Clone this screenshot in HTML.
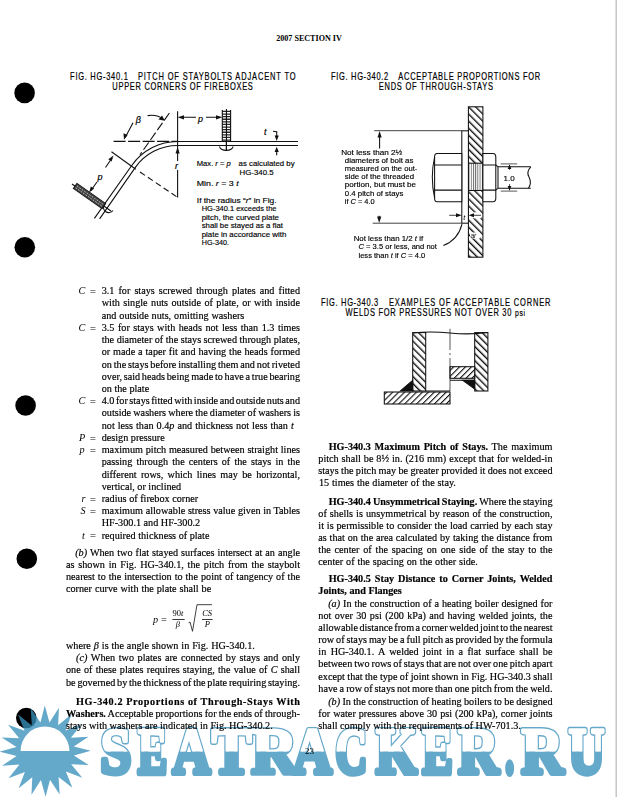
<!DOCTYPE html>
<html><head><meta charset="utf-8">
<style>
html,body{margin:0;padding:0;background:#fff;}
body{width:617px;height:797px;overflow:hidden;position:relative;}
svg{position:absolute;left:0;top:0;}
svg{font-family:"Liberation Serif", serif;} text.t{stroke:#000;stroke-width:0.18px;}
</style></head><body>
<svg width="617" height="797" viewBox="0 0 617 797">
<rect x="0" y="0" width="617" height="797" fill="#fff"/>
<rect x="615" y="0" width="2" height="797" fill="#c8c8c8"/>
<rect x="615" y="0" width="0.8" height="797" fill="#e6e6e6"/>
<circle cx="24.6" cy="92.9" r="10.3" fill="#000"/><circle cx="24.8" cy="247.3" r="10.3" fill="#000"/><circle cx="25.6" cy="405.5" r="10.3" fill="#000"/><circle cx="26.8" cy="558.7" r="10.3" fill="#000"/><circle cx="26.3" cy="718.0" r="10.3" fill="#000"/>

<defs>
<linearGradient id="wg" gradientUnits="userSpaceOnUse" x1="0" y1="726" x2="0" y2="776">
<stop offset="0" stop-color="#fff"/><stop offset="0.5" stop-color="#fff"/><stop offset="0.5" stop-color="#388fbb"/><stop offset="1" stop-color="#388fbb"/>
</linearGradient>
</defs>
<g opacity="0.78">
<polygon points="90.80,750.80 73.88,755.49 88.69,764.91 71.15,764.14 82.32,777.68 65.88,771.53 72.32,787.86 58.59,776.92 59.67,794.44 49.99,779.80 45.60,796.80 40.91,779.88 31.49,794.69 32.26,777.15 18.72,788.32 24.87,771.88 8.54,778.32 19.48,764.59 1.96,765.67 16.60,755.99 -0.40,751.60 16.52,746.91 1.71,737.49 19.25,738.26 8.08,724.72 24.52,730.87 18.08,714.54 31.81,725.48 30.73,707.96 40.41,722.60 44.80,705.60 49.49,722.52 58.91,707.71 58.14,725.25 71.68,714.08 65.53,730.52 81.86,724.08 70.92,737.81 88.44,736.73 73.80,746.41" fill="#388fbb"/>
<path d="M20.5,751 A24.5,24.5 0 0 1 69.5,751 Z" fill="#fff"/>
<clipPath id="topc"><rect x="0" y="600" width="617" height="151.4"/></clipPath>
<text x="0" y="772.6" transform="translate(100.50,0) scale(0.843,1)" font-family='"Liberation Serif", serif' font-weight="bold" font-size="65.5" fill="#388fbb" stroke="#388fbb" stroke-width="5.60" stroke-linejoin="round" vector-effect="non-scaling-stroke">S</text>
<text x="0" y="772.6" transform="translate(137.90,0) scale(0.663,1)" font-family='"Liberation Serif", serif' font-weight="bold" font-size="65.5" fill="#388fbb" stroke="#388fbb" stroke-width="5.60" stroke-linejoin="round" vector-effect="non-scaling-stroke">E</text>
<text x="0" y="772.6" transform="translate(172.70,0) scale(0.794,1)" font-family='"Liberation Serif", serif' font-weight="bold" font-size="65.5" fill="#388fbb" stroke="#388fbb" stroke-width="5.60" stroke-linejoin="round" vector-effect="non-scaling-stroke">A</text>
<text x="0" y="772.6" transform="translate(211.80,0) scale(0.911,1)" font-family='"Liberation Serif", serif' font-weight="bold" font-size="65.5" fill="#388fbb" stroke="#388fbb" stroke-width="5.60" stroke-linejoin="round" vector-effect="non-scaling-stroke">T</text>
<text x="0" y="772.6" transform="translate(251.40,0) scale(0.970,1)" font-family='"Liberation Serif", serif' font-weight="bold" font-size="65.5" fill="#388fbb" stroke="#388fbb" stroke-width="5.60" stroke-linejoin="round" vector-effect="non-scaling-stroke">R</text>
<text x="0" y="772.6" transform="translate(292.80,0) scale(0.823,1)" font-family='"Liberation Serif", serif' font-weight="bold" font-size="65.5" fill="#388fbb" stroke="#388fbb" stroke-width="5.60" stroke-linejoin="round" vector-effect="non-scaling-stroke">A</text>
<text x="0" y="772.6" transform="translate(335.60,0) scale(0.669,1)" font-family='"Liberation Serif", serif' font-weight="bold" font-size="65.5" fill="#388fbb" stroke="#388fbb" stroke-width="5.60" stroke-linejoin="round" vector-effect="non-scaling-stroke">C</text>
<text x="0" y="772.6" transform="translate(376.10,0) scale(0.803,1)" font-family='"Liberation Serif", serif' font-weight="bold" font-size="65.5" fill="#388fbb" stroke="#388fbb" stroke-width="5.60" stroke-linejoin="round" vector-effect="non-scaling-stroke">K</text>
<text x="0" y="772.6" transform="translate(422.50,0) scale(0.686,1)" font-family='"Liberation Serif", serif' font-weight="bold" font-size="65.5" fill="#388fbb" stroke="#388fbb" stroke-width="5.60" stroke-linejoin="round" vector-effect="non-scaling-stroke">E</text>
<text x="0" y="772.6" transform="translate(458.20,0) scale(0.853,1)" font-family='"Liberation Serif", serif' font-weight="bold" font-size="65.5" fill="#388fbb" stroke="#388fbb" stroke-width="5.60" stroke-linejoin="round" vector-effect="non-scaling-stroke">R</text>
<text x="0" y="772.6" transform="translate(505.40,0) scale(0.506,1)" font-family='"Liberation Serif", serif' font-weight="bold" font-size="65.5" fill="#388fbb" stroke="#388fbb" stroke-width="5.60" stroke-linejoin="round" vector-effect="non-scaling-stroke">.</text>
<text x="0" y="772.6" transform="translate(521.60,0) scale(0.885,1)" font-family='"Liberation Serif", serif' font-weight="bold" font-size="65.5" fill="#388fbb" stroke="#388fbb" stroke-width="5.60" stroke-linejoin="round" vector-effect="non-scaling-stroke">R</text>
<text x="0" y="772.6" transform="translate(568.60,0) scale(0.762,1)" font-family='"Liberation Serif", serif' font-weight="bold" font-size="65.5" fill="#388fbb" stroke="#388fbb" stroke-width="5.60" stroke-linejoin="round" vector-effect="non-scaling-stroke">U</text>
<g clip-path="url(#topc)"><text x="0" y="772.6" transform="translate(100.50,0) scale(0.843,1)" font-family='"Liberation Serif", serif' font-weight="bold" font-size="65.5" fill="#fff" stroke="#fff" stroke-width="3.00" stroke-linejoin="round" vector-effect="non-scaling-stroke">S</text>
<text x="0" y="772.6" transform="translate(137.90,0) scale(0.663,1)" font-family='"Liberation Serif", serif' font-weight="bold" font-size="65.5" fill="#fff" stroke="#fff" stroke-width="3.00" stroke-linejoin="round" vector-effect="non-scaling-stroke">E</text>
<text x="0" y="772.6" transform="translate(172.70,0) scale(0.794,1)" font-family='"Liberation Serif", serif' font-weight="bold" font-size="65.5" fill="#fff" stroke="#fff" stroke-width="3.00" stroke-linejoin="round" vector-effect="non-scaling-stroke">A</text>
<text x="0" y="772.6" transform="translate(211.80,0) scale(0.911,1)" font-family='"Liberation Serif", serif' font-weight="bold" font-size="65.5" fill="#fff" stroke="#fff" stroke-width="3.00" stroke-linejoin="round" vector-effect="non-scaling-stroke">T</text>
<text x="0" y="772.6" transform="translate(251.40,0) scale(0.970,1)" font-family='"Liberation Serif", serif' font-weight="bold" font-size="65.5" fill="#fff" stroke="#fff" stroke-width="3.00" stroke-linejoin="round" vector-effect="non-scaling-stroke">R</text>
<text x="0" y="772.6" transform="translate(292.80,0) scale(0.823,1)" font-family='"Liberation Serif", serif' font-weight="bold" font-size="65.5" fill="#fff" stroke="#fff" stroke-width="3.00" stroke-linejoin="round" vector-effect="non-scaling-stroke">A</text>
<text x="0" y="772.6" transform="translate(335.60,0) scale(0.669,1)" font-family='"Liberation Serif", serif' font-weight="bold" font-size="65.5" fill="#fff" stroke="#fff" stroke-width="3.00" stroke-linejoin="round" vector-effect="non-scaling-stroke">C</text>
<text x="0" y="772.6" transform="translate(376.10,0) scale(0.803,1)" font-family='"Liberation Serif", serif' font-weight="bold" font-size="65.5" fill="#fff" stroke="#fff" stroke-width="3.00" stroke-linejoin="round" vector-effect="non-scaling-stroke">K</text>
<text x="0" y="772.6" transform="translate(422.50,0) scale(0.686,1)" font-family='"Liberation Serif", serif' font-weight="bold" font-size="65.5" fill="#fff" stroke="#fff" stroke-width="3.00" stroke-linejoin="round" vector-effect="non-scaling-stroke">E</text>
<text x="0" y="772.6" transform="translate(458.20,0) scale(0.853,1)" font-family='"Liberation Serif", serif' font-weight="bold" font-size="65.5" fill="#fff" stroke="#fff" stroke-width="3.00" stroke-linejoin="round" vector-effect="non-scaling-stroke">R</text>
<text x="0" y="772.6" transform="translate(505.40,0) scale(0.506,1)" font-family='"Liberation Serif", serif' font-weight="bold" font-size="65.5" fill="#fff" stroke="#fff" stroke-width="3.00" stroke-linejoin="round" vector-effect="non-scaling-stroke">.</text>
<text x="0" y="772.6" transform="translate(521.60,0) scale(0.885,1)" font-family='"Liberation Serif", serif' font-weight="bold" font-size="65.5" fill="#fff" stroke="#fff" stroke-width="3.00" stroke-linejoin="round" vector-effect="non-scaling-stroke">R</text>
<text x="0" y="772.6" transform="translate(568.60,0) scale(0.762,1)" font-family='"Liberation Serif", serif' font-weight="bold" font-size="65.5" fill="#fff" stroke="#fff" stroke-width="3.00" stroke-linejoin="round" vector-effect="non-scaling-stroke">U</text></g>
</g>

<!-- header -->
<text x="276.2" y="40.8" font-size="9.2" font-weight="bold" textLength="65.6" lengthAdjust="spacingAndGlyphs">2007 SECTION IV</text>

<!-- figure titles -->
<g font-family='"Liberation Sans", sans-serif' font-size="10.4" stroke="#000" stroke-width="0.2">
<text x="0" y="0" transform="translate(70.1,79.6) scale(0.72,1)" textLength="80.2" lengthAdjust="spacing">FIG. HG-340.1</text>
<text x="0" y="0" transform="translate(138.0,79.6) scale(0.72,1)" textLength="218.8" lengthAdjust="spacing">PITCH OF STAYBOLTS ADJACENT TO</text>
<text x="0" y="0" transform="translate(112.3,90.3) scale(0.72,1)" textLength="195.2" lengthAdjust="spacing">UPPER CORNERS OF FIREBOXES</text>
<text x="0" y="0" transform="translate(331.1,79.6) scale(0.72,1)" textLength="79.3" lengthAdjust="spacing">FIG. HG-340.2</text>
<text x="0" y="0" transform="translate(398.3,79.6) scale(0.72,1)" textLength="197.1" lengthAdjust="spacing">ACCEPTABLE PROPORTIONS FOR</text>
<text x="0" y="0" transform="translate(378.7,90.0) scale(0.72,1)" textLength="158.8" lengthAdjust="spacing">ENDS OF THROUGH-STAYS</text>
<text x="0" y="0" transform="translate(321.1,305.8) scale(0.72,1)" textLength="79.3" lengthAdjust="spacing">FIG. HG-340.3</text>
<text x="0" y="0" transform="translate(389.0,305.8) scale(0.72,1)" textLength="224.2" lengthAdjust="spacing">EXAMPLES OF ACCEPTABLE CORNER</text>
<text x="0" y="0" transform="translate(345.4,315.9) scale(0.72,1)" textLength="249.6" lengthAdjust="spacing">WELDS FOR PRESSURES NOT OVER 30 <tspan font-size="9.5">psi</tspan></text>
</g>

<!-- FIG 1 annotations -->
<g font-family='"Liberation Sans", sans-serif' font-size="7.3" stroke="#000" stroke-width="0.15" lengthAdjust="spacingAndGlyphs">
<text x="196.8" y="165.6" textLength="34" lengthAdjust="spacingAndGlyphs">Max. <tspan font-style="italic">r</tspan> = <tspan font-style="italic">p</tspan></text>
<text x="238.6" y="165.6" textLength="56" lengthAdjust="spacingAndGlyphs">as calculated by</text>
<text x="239.6" y="175.3" textLength="34" lengthAdjust="spacingAndGlyphs">HG-340.5</text>
<text x="196.8" y="186" textLength="41.8" lengthAdjust="spacingAndGlyphs">Min. <tspan font-style="italic">r</tspan> = 3 <tspan font-style="italic">t</tspan></text>
<text x="196.8" y="202.9" textLength="79.7" lengthAdjust="spacingAndGlyphs">If the radius “<tspan font-style="italic">r</tspan>” in Fig.</text>
<text x="201.7" y="211.3" textLength="74.8" lengthAdjust="spacingAndGlyphs">HG-340.1 exceeds the</text>
<text x="201.7" y="219.6" textLength="77.3" lengthAdjust="spacingAndGlyphs">pitch, the curved plate</text>
<text x="201.7" y="227.8" textLength="81.3" lengthAdjust="spacingAndGlyphs">shall be stayed as a flat</text>
<text x="201.7" y="236.5" textLength="84.6" lengthAdjust="spacingAndGlyphs">plate in accordance with</text>
<text x="201.7" y="245.3" textLength="27.2" lengthAdjust="spacingAndGlyphs">HG-340.</text>
</g>
<g font-family='"Liberation Sans", sans-serif' font-style="italic" font-size="9" stroke="#000" stroke-width="0.2">
<text x="135.8" y="123">β</text>
<text x="198" y="121.5">p</text>
<text x="97.5" y="179.5">p</text>
<text x="175" y="168.5">r</text>
<text x="264" y="135">t</text>
</g>

<!-- FIG 1 drawing -->
<g fill="none" stroke="#111" stroke-width="1.1">
  <!-- top plate outer & inner with bend and incline -->
  <path d="M298,141.5 L177.7,141.5 A55.9,55.9 0 0 0 131.9,165.3 L94.4,218.4"/>
  <path d="M298,145.5 L177.7,145.5 A51.9,51.9 0 0 0 135.2,167.6 L99.6,218.9"/>
  <!-- dashed horizontal extension -->
  <path d="M113.6,141.4 L177.7,141.4" stroke-dasharray="12,2.5"/>
  <!-- dashed extension of incline -->
  <path d="M169.4,113 L140,154.8" stroke-dasharray="9,3"/>
  <!-- vertical r line -->
  <path d="M177.6,111.3 L177.6,161"/>
  <path d="M177.6,170 L177.6,197.4"/>
  <!-- perpendicular line -->
  <path d="M111.5,151.7 L135.8,169.2"/>
  <path d="M140,172 L177.7,197.4" stroke-dasharray="6,3.5"/>
  <!-- beta arrows -->
  <path d="M147.6,115.6 Q157,114 163.5,119.5"/>
  <path d="M133,122.7 L125.2,137.5"/>
  <!-- p dim top -->
  <path d="M181.5,117.3 L196,117.3 M206,117.3 L219,117.3"/>
  <!-- p dim incline -->
  <path d="M112,158 L105.5,167.5 M97,182 L90.5,191"/>
  <!-- t arrows -->
  <path d="M273,131.2 L276.7,131.8 L276.7,138"/>
  <path d="M276.7,155.3 L276.7,150"/>
  <!-- extension line from lower bolt -->
  <path d="M72,184 L111,211"/>
  <!-- head semicircles -->
  <path d="M219.6,146.4 A6.7,4 0 0 0 233,146.4"/>
  <path d="M104.5,204 A5,5 0 0 0 113,210.5"/>
  <!-- staybolt top -->
  <path d="M222.3,110 L222.3,141.4 M230.6,110 L230.6,141.4 M226.45,109 L226.45,151"/>
  <path d="M226.4,141 L226.4,151"/>
</g>
<g fill="#111">
  <!-- arrowheads -->
  <path d="M177.6,117.3 L184,115.2 L184,119.4 Z"/>
  <path d="M222.3,117.3 L216,115.2 L216,119.4 Z"/>
  <path d="M177.6,147 L175.5,153.5 L179.7,153.5 Z"/>
  <path d="M276.7,141 L274.6,135.5 L278.8,135.5 Z"/>
  <path d="M276.7,146.7 L274.6,152 L278.8,152 Z"/>
  <path d="M164.8,120.8 L158.5,119.5 L162,115.5 Z"/>
  <path d="M124,139.7 L123.5,133.2 L127.6,135 Z"/>
  <path d="M113.5,155.6 L108.3,159.2 L111.6,161.4 Z"/>
  <path d="M89.2,192.5 L90.8,186.4 L94.2,188.6 Z"/>
  <!-- staybolt hatch -->
  <path d="M222.3,110.8 h8.4 v1.3 h-8.4z M222.3,113.4 h8.4 v1.3 h-8.4z M222.3,116.0 h8.4 v1.3 h-8.4z M222.3,118.6 h8.4 v1.3 h-8.4z M222.3,121.2 h8.4 v1.3 h-8.4z M222.3,123.8 h8.4 v1.3 h-8.4z M222.3,126.4 h8.4 v1.3 h-8.4z M222.3,129.0 h8.4 v1.3 h-8.4z M222.3,131.6 h8.4 v1.3 h-8.4z M222.3,134.2 h8.4 v1.3 h-8.4z M222.3,136.8 h8.4 v1.3 h-8.4z M222.3,139.4 h8.4 v1.3 h-8.4z" opacity="0.9"/>
</g>
<!-- lower staybolt hatched -->
<g transform="translate(89.5,196) rotate(35)">
  <rect x="-17.5" y="-3.1" width="35" height="6.2" fill="#444" stroke="#111" stroke-width="1"/>
  <path d="M-16,-1 L16,-1 M-16,1.2 L16,1.2" stroke="#ddd" stroke-width="0.7" stroke-dasharray="1.6,1.4"/>
</g>

<!-- FIG 2 annotations -->
<g font-family='"Liberation Sans", sans-serif' font-size="7.3" stroke="#000" stroke-width="0.15" lengthAdjust="spacingAndGlyphs">
<text x="341.2" y="154.8" textLength="61.2" lengthAdjust="spacingAndGlyphs">Not less than 2½</text>
<text x="344.8" y="162.8" textLength="68.6" lengthAdjust="spacingAndGlyphs">diameters of bolt as</text>
<text x="344.8" y="170.5" textLength="72.6" lengthAdjust="spacingAndGlyphs">measured on the out-</text>
<text x="344.8" y="178.8" textLength="69.2" lengthAdjust="spacingAndGlyphs">side of the threaded</text>
<text x="344.8" y="187.4" textLength="71.3" lengthAdjust="spacingAndGlyphs">portion, but must be</text>
<text x="344.8" y="195.8" textLength="58.5" lengthAdjust="spacingAndGlyphs">0.4 pitch of stays</text>
<text x="344.8" y="203.8" textLength="29.8" lengthAdjust="spacingAndGlyphs">if <tspan font-style="italic">C</tspan> = 4.0</text>
<text x="353.7" y="240.5" textLength="69.5" lengthAdjust="spacingAndGlyphs">Not less than 1/2 <tspan font-style="italic">t</tspan> if</text>
<text x="358.5" y="249.1" textLength="78.4" lengthAdjust="spacingAndGlyphs"><tspan font-style="italic">C</tspan> = 3.5 or less, and not</text>
<text x="358.5" y="257.5" textLength="66.8" lengthAdjust="spacingAndGlyphs">less than <tspan font-style="italic">t</tspan> if <tspan font-style="italic">C</tspan> = 4.0</text>
<text x="503.5" y="181" font-size="8">1.0</text>
</g>


<!-- FIG 2 drawing -->
<defs>
  <pattern id="hb" patternUnits="userSpaceOnUse" width="5" height="5" patternTransform="rotate(-45)">
    <rect width="5" height="5" fill="#fff"/>
    <rect x="0" y="0" width="1.4" height="5" fill="#111"/>
  </pattern>
  <pattern id="hf" patternUnits="userSpaceOnUse" width="4.2" height="4.2" patternTransform="rotate(45)">
    <rect width="4.2" height="4.2" fill="#fff"/>
    <rect x="0" y="0" width="1.1" height="4.2" fill="#111"/>
  </pattern>
  <pattern id="thr" patternUnits="userSpaceOnUse" width="2.2" height="3">
    <rect width="2.2" height="3" fill="#fff"/>
    <rect x="0" y="0" width="0.9" height="3" fill="#666"/>
  </pattern>
</defs>
<g stroke="#111" stroke-width="1.05">
  <rect x="468.4" y="106.8" width="14.5" height="150.4" fill="url(#hb)"/>
  <rect x="468.4" y="163.2" width="14.5" height="27.3" fill="url(#thr)"/>
  <rect x="461.8" y="130.8" width="6.6" height="92.4" fill="#fff"/>
  <path d="M461.8,153.5 L437,153.5 Q434.6,153.5 434.6,157 L434.6,198 Q434.6,201.8 437,201.8 L461.8,201.8 Z" fill="#fff"/>
  <path d="M434.6,164.9 L461.8,164.9 M434.6,190.1 L461.8,190.1" fill="none"/>
  <path d="M434.6,157 Q430,177 434.6,198" fill="none"/>
  <path d="M482.9,153.5 L493,153.5 Q495.8,153.5 495.8,157 L495.8,198 Q495.8,201.8 493,201.8 L482.9,201.8 Z" fill="#fff"/>
  <path d="M482.9,164.9 L495.8,164.9 M482.9,190.1 L495.8,190.1" fill="none"/>
  <path d="M495.8,165 L498,166.8 L530.8,166.8 M495.8,190 L498,188.2 L530.8,188.2 M498,166.8 L498,188.2" fill="none"/>
  <path d="M530.8,166.8 Q526,172 529,177 Q532,183 528.5,188.2" fill="none"/>
  <path d="M500.7,163.9 L517.2,163.9 M500.7,191.1 L517.2,191.1" fill="none" stroke-width="0.7"/>
  <path d="M509.5,170 L509.5,166 M509.5,184 L509.5,189" fill="none" stroke-width="0.7"/>
  <path d="M374.2,130.7 L461.8,130.7 M372.7,223.2 L461.8,223.2" fill="none" stroke-width="0.8"/>
  <path d="M379.6,148.5 L379.6,135 M379.2,215.8 L379.2,219" fill="none"/>
  <path d="M449.2,215.3 L458,215.3 M480,215.3 L471,215.3" fill="none" stroke-width="0.8"/>
  <path d="M462,224.2 Q458,240 443.3,245.6" fill="none"/>
</g>
<g fill="#111">
  <path d="M379.6,130.9 L377.5,137.5 L381.7,137.5 Z"/>
  <path d="M379.2,223 L377.1,216.5 L381.3,216.5 Z"/>
  <path d="M461.8,215.3 L456,213.3 L456,217.3 Z"/>
  <rect x="469" y="212.3" width="12" height="6" fill="#fff"/><path d="M468.6,215.3 L474,213.3 L474,217.3 Z"/><path d="M474,215.3 L481,215.3" stroke="#111" stroke-width="0.8"/>
  <path d="M509.5,164.2 L507.7,169 L511.3,169 Z"/>
  <path d="M509.5,190.8 L507.7,186 L511.3,186 Z"/>
</g>
<rect x="470" y="232.5" width="10" height="6" fill="#fff"/>
<text x="463.2" y="219.5" font-family='"Liberation Sans", sans-serif' font-style="italic" font-size="7.5">t</text>
<text x="470.5" y="238" font-family='"Liberation Sans", sans-serif' font-size="6.5" font-style="italic">ar</text>

<!-- FIG 3 drawing -->
<g stroke="#111" stroke-width="1.05">
  <rect x="412.7" y="332.6" width="13" height="58.4" fill="url(#hb)"/>
  <rect x="474.7" y="332.6" width="13.2" height="58.4" fill="url(#hb)"/>
  <rect x="384.3" y="392" width="65.7" height="12" fill="url(#hf)"/>
  <rect x="450" y="366.7" width="24.7" height="11.6" fill="url(#hf)"/>
  <path d="M412.7,333 Q430,331 450,333 T487.9,332.4" fill="none"/>
  <path d="M425.7,391 L450,391 M450,380.3 L474.7,380.3" fill="none"/>
  <path d="M450,328.8 L450,350 M450,353 L450,355 M450,358 L450,391" fill="none" stroke-width="0.7"/>
  <path d="M400.4,391 L412.7,380.3 L412.7,391 Z" fill="#111"/>
  <path d="M462.7,380.3 L474.7,380.3 L474.7,389 Z" fill="#111"/>
</g>

<!-- formula -->
<g font-size="10.2">
<text x="152.9" y="622.9" font-style="italic">p</text>
<text x="161" y="622.9">=</text>
<text x="172.4" y="616.4" font-size="8.5">90<tspan font-style="italic">t</tspan></text>
<path d="M172.4,619.5 L184.7,619.5" stroke="#222" stroke-width="0.9"/>
<text x="175.7" y="626.8" font-size="8.5" font-style="italic">β</text>
<path d="M188.6,622.9 L190,622 L192.5,631.3 L197,604.7 L212,604.7" fill="none" stroke="#111" stroke-width="0.8"/>
<text x="202.2" y="616.4" font-size="8.5" font-style="italic">CS</text>
<path d="M202,619.5 L212.6,619.5" stroke="#222" stroke-width="0.9"/>
<text x="204.8" y="626.8" font-size="8.5" font-style="italic">P</text>
</g>

<text x="305" y="753.8" font-size="9">23</text>

<g>
<text class="t" x="101.70" y="294.20" font-size="10.20" word-spacing="1.492"><tspan>3.1 for stays screwed through plates and fitted</tspan></text>
<text class="t" x="90.00" y="294.90" font-size="10.20"><tspan>=</tspan></text>
<text class="t" x="101.70" y="306.43" font-size="10.20" word-spacing="0.913"><tspan>with single nuts outside of plate, or with inside</tspan></text>
<text class="t" x="101.70" y="318.65" font-size="10.20" word-spacing="0.349"><tspan>and outside nuts, omitting washers</tspan></text>
<text class="t" x="101.70" y="330.88" font-size="10.20" word-spacing="0.936"><tspan>3.5 for stays with heads not less than 1.3 times</tspan></text>
<text class="t" x="90.00" y="331.57" font-size="10.20"><tspan>=</tspan></text>
<text class="t" x="101.70" y="343.10" font-size="10.20" word-spacing="-0.042"><tspan>the diameter of the stays screwed through plates,</tspan></text>
<text class="t" x="101.70" y="355.32" font-size="10.20" word-spacing="0.377"><tspan>or made a taper fit and having the heads formed</tspan></text>
<text class="t" x="101.70" y="367.55" font-size="10.20" word-spacing="-0.675"><tspan>on the stays before installing them and not riveted</tspan></text>
<text class="t" x="101.70" y="379.77" font-size="10.20" word-spacing="-0.803"><tspan>over, said heads being made to have a true bearing</tspan></text>
<text class="t" x="101.70" y="392.00" font-size="10.20"><tspan>on the plate</tspan></text>
<text class="t" x="101.70" y="404.22" font-size="10.20" word-spacing="-1.043"><tspan>4.0 for stays fitted with inside and outside nuts and</tspan></text>
<text class="t" x="90.00" y="404.92" font-size="10.20"><tspan>=</tspan></text>
<text class="t" x="101.70" y="416.45" font-size="10.20" word-spacing="-0.406"><tspan>outside washers where the diameter of washers is</tspan></text>
<text class="t" x="101.70" y="428.67" font-size="10.20" word-spacing="0.466"><tspan>not less than 0.4</tspan><tspan font-style="italic">p</tspan><tspan> and thickness not less than </tspan><tspan font-style="italic">t</tspan></text>
<text class="t" x="101.70" y="440.90" font-size="10.20"><tspan>design pressure</tspan></text>
<text class="t" x="90.00" y="441.60" font-size="10.20"><tspan>=</tspan></text>
<text class="t" x="101.70" y="453.12" font-size="10.20" word-spacing="0.219"><tspan>maximum pitch measured between straight lines</tspan></text>
<text class="t" x="90.00" y="453.82" font-size="10.20"><tspan>=</tspan></text>
<text class="t" x="101.70" y="465.35" font-size="10.20" word-spacing="1.586"><tspan>passing through the centers of the stays in the</tspan></text>
<text class="t" x="101.70" y="477.57" font-size="10.20" word-spacing="1.771"><tspan>different rows, which lines may be horizontal,</tspan></text>
<text class="t" x="101.70" y="489.80" font-size="10.20"><tspan>vertical, or inclined</tspan></text>
<text class="t" x="101.70" y="502.02" font-size="10.20"><tspan>radius of firebox corner</tspan></text>
<text class="t" x="90.00" y="502.72" font-size="10.20"><tspan>=</tspan></text>
<text class="t" x="101.70" y="514.25" font-size="10.20" word-spacing="0.097"><tspan>maximum allowable stress value given in Tables</tspan></text>
<text class="t" x="90.00" y="514.95" font-size="10.20"><tspan>=</tspan></text>
<text class="t" x="101.70" y="526.48" font-size="10.20"><tspan>HF-300.1 and HF-300.2</tspan></text>
<text class="t" x="101.70" y="538.70" font-size="10.20"><tspan>required thickness of plate</tspan></text>
<text class="t" x="90.00" y="539.40" font-size="10.20"><tspan>=</tspan></text>
<text class="t" x="75.20" y="556.10" font-size="10.20" word-spacing="0.450"><tspan font-style="italic">(b)</tspan><tspan> When two flat stayed surfaces intersect at an angle</tspan></text>
<text class="t" x="66.00" y="568.00" font-size="10.20" word-spacing="1.224"><tspan>as shown in Fig. HG-340.1, the pitch from the staybolt</tspan></text>
<text class="t" x="66.00" y="580.00" font-size="10.20" word-spacing="0.428"><tspan>nearest to the intersection to the point of tangency of the</tspan></text>
<text class="t" x="66.00" y="592.00" font-size="10.20" word-spacing="0.343"><tspan>corner curve with the plate shall be</tspan></text>
<text class="t" x="66.00" y="648.90" font-size="10.20" word-spacing="0.364"><tspan>where </tspan><tspan font-style="italic">β</tspan><tspan> is the angle shown in Fig. HG-340.1.</tspan></text>
<text class="t" x="76.10" y="661.20" font-size="10.20" word-spacing="1.041"><tspan font-style="italic">(c)</tspan><tspan> When two plates are connected by stays and only</tspan></text>
<text class="t" x="66.00" y="673.40" font-size="10.20" word-spacing="0.681"><tspan>one of these plates requires staying, the value of </tspan><tspan font-style="italic">C</tspan><tspan> shall</tspan></text>
<text class="t" x="66.00" y="685.80" font-size="10.20" word-spacing="-0.783"><tspan>be governed by the thickness of the plate requiring staying.</tspan></text>
<text class="t" x="76.10" y="704.90" font-size="10.20" letter-spacing="0.603"><tspan font-weight="bold">HG-340.2 Proportions of Through-Stays With</tspan></text>
<text class="t" x="66.00" y="716.90" font-size="10.20" word-spacing="-0.362"><tspan font-weight="bold">Washers.</tspan><tspan> Acceptable proportions for the ends of through-</tspan></text>
<text class="t" x="66.00" y="728.50" font-size="10.20" word-spacing="0.022"><tspan>stays with washers are indicated in Fig. HG-340.2.</tspan></text>
<text class="t" x="328.70" y="449.90" font-size="10.20" word-spacing="1.206"><tspan font-weight="bold">HG-340.3 Maximum Pitch of Stays.</tspan><tspan> The maximum</tspan></text>
<text class="t" x="318.30" y="462.10" font-size="10.20" word-spacing="0.390"><tspan>pitch shall be 8½ in. (216 mm) except that for welded-in</tspan></text>
<text class="t" x="318.30" y="474.20" font-size="10.20" word-spacing="-0.174"><tspan>stays the pitch may be greater provided it does not exceed</tspan></text>
<text class="t" x="318.90" y="486.40" font-size="10.20" word-spacing="0.357"><tspan>15 times the diameter of the stay.</tspan></text>
<text class="t" x="328.70" y="505.10" font-size="10.20" word-spacing="-0.418"><tspan font-weight="bold">HG-340.4 Unsymmetrical Staying.</tspan><tspan> Where the staying</tspan></text>
<text class="t" x="318.30" y="517.20" font-size="10.20" word-spacing="0.521"><tspan>of shells is unsymmetrical by reason of the construction,</tspan></text>
<text class="t" x="318.30" y="529.20" font-size="10.20" word-spacing="0.334"><tspan>it is permissible to consider the load carried by each stay</tspan></text>
<text class="t" x="318.30" y="540.90" font-size="10.20" word-spacing="0.281"><tspan>as that on the area calculated by taking the distance from</tspan></text>
<text class="t" x="318.30" y="552.70" font-size="10.20" word-spacing="1.269"><tspan>the center of the spacing on one side of the stay to the</tspan></text>
<text class="t" x="318.30" y="564.50" font-size="10.20" word-spacing="0.329"><tspan>center of the spacing on the other side.</tspan></text>
<text class="t" x="328.70" y="581.70" font-size="10.20" word-spacing="1.422"><tspan font-weight="bold">HG-340.5 Stay Distance to Corner Joints, Welded</tspan></text>
<text class="t" x="318.30" y="594.00" font-size="10.20"><tspan font-weight="bold">Joints, and Flanges</tspan></text>
<text class="t" x="328.20" y="606.50" font-size="10.20" word-spacing="0.370"><tspan font-style="italic">(a)</tspan><tspan> In the construction of a heating boiler designed for</tspan></text>
<text class="t" x="318.30" y="618.80" font-size="10.20" word-spacing="0.868"><tspan>not over 30 psi (200 kPa) and having welded joints, the</tspan></text>
<text class="t" x="318.30" y="630.60" font-size="10.20" word-spacing="-1.040"><tspan>allowable distance from a corner welded joint to the nearest</tspan></text>
<text class="t" x="318.30" y="642.90" font-size="10.20" word-spacing="-0.571"><tspan>row of stays may be a full pitch as provided by the formula</tspan></text>
<text class="t" x="318.30" y="655.10" font-size="10.20" word-spacing="1.861"><tspan>in HG-340.1. A welded joint in a flat surface shall be</tspan></text>
<text class="t" x="318.30" y="667.30" font-size="10.20" word-spacing="-0.544"><tspan>between two rows of stays that are not over one pitch apart</tspan></text>
<text class="t" x="318.30" y="679.80" font-size="10.20" word-spacing="-0.122"><tspan>except that the type of joint shown in Fig. HG-340.3 shall</tspan></text>
<text class="t" x="318.30" y="692.10" font-size="10.20" word-spacing="-0.499"><tspan>have a row of stays not more than one pitch from the weld.</tspan></text>
<text class="t" x="328.20" y="704.70" font-size="10.20" word-spacing="-0.196"><tspan font-style="italic">(b)</tspan><tspan> In the construction of heating boilers to be designed</tspan></text>
<text class="t" x="318.30" y="716.60" font-size="10.20" word-spacing="0.434"><tspan>for water pressures above 30 psi (200 kPa), corner joints</tspan></text>
<text class="t" x="318.30" y="728.50" font-size="10.20"><tspan>shall comply with the requirements of HW-701.3.</tspan></text>
<text x="78.50" y="294.20" font-size="10.20" font-style="italic">C</text>
<text x="78.50" y="330.88" font-size="10.20" font-style="italic">C</text>
<text x="78.50" y="404.22" font-size="10.20" font-style="italic">C</text>
<text x="79.00" y="440.90" font-size="10.20" font-style="italic">P</text>
<text x="79.40" y="453.12" font-size="10.20" font-style="italic">p</text>
<text x="81.50" y="502.02" font-size="10.20" font-style="italic">r</text>
<text x="80.40" y="514.25" font-size="10.20" font-style="italic">S</text>
<text x="81.90" y="538.70" font-size="10.20" font-style="italic">t</text>
</g>
</svg>
</body></html>
